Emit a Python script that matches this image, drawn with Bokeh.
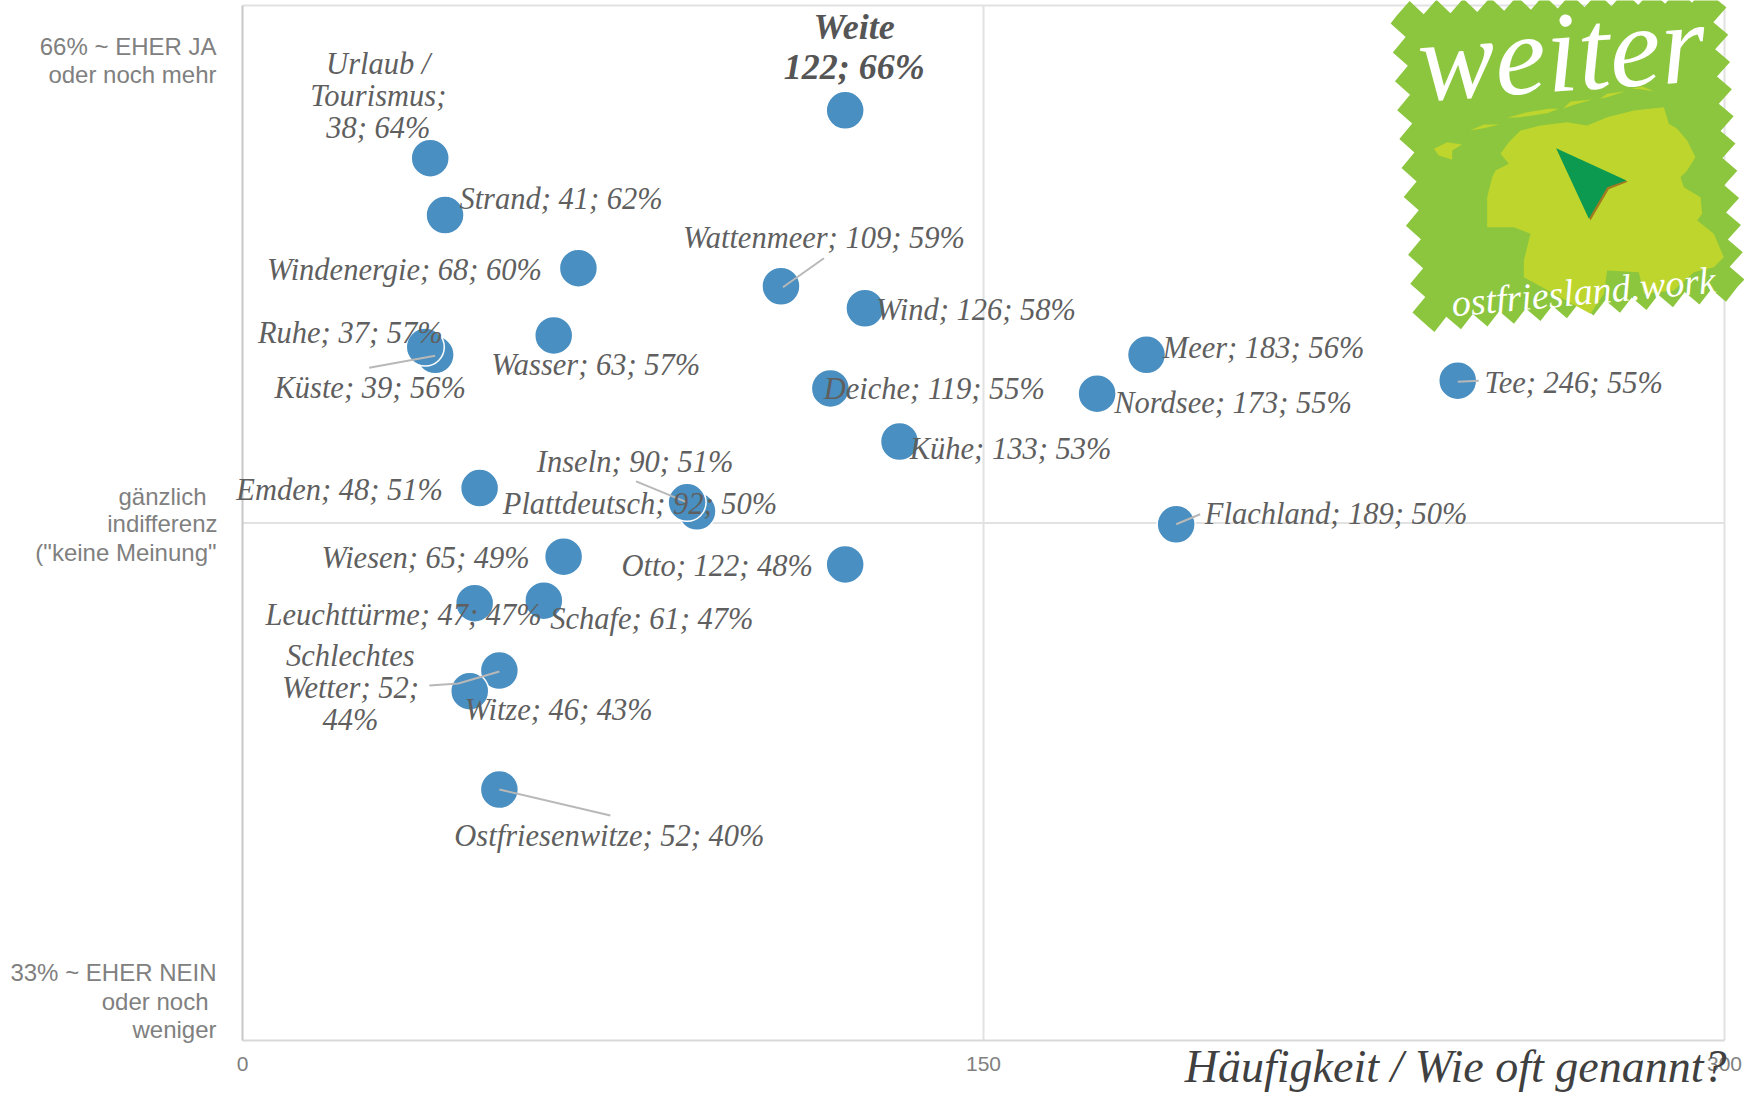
import math
from bokeh.plotting import figure
from bokeh.models import ColumnDataSource, LabelSet, Label, PolyAnnotation, FixedTicker
from bokeh.core.properties import value
from bokeh.embed import file_html
from bokeh.resources import INLINE

# ---- data ----
names = ["Weite", "Urlaub / Tourismus", "Strand", "Windenergie", "Wattenmeer", "Wind", "Wasser",
         "Küste", "Ruhe", "Meer", "Deiche", "Nordsee", "Tee", "Kühe", "Emden", "Plattdeutsch",
         "Inseln", "Flachland", "Wiesen", "Otto", "Leuchttürme", "Schafe", "Schlechtes Wetter",
         "Witze", "Ostfriesenwitze"]
haeufigkeit = [122, 38, 41, 68, 109, 126, 63, 39, 37, 183, 119, 173, 246, 133, 48, 92, 90, 189, 65,
               122, 47, 61, 52, 46, 52]
zustimmung = [65.95, 64.1, 61.9, 59.85, 59.15, 58.3, 57.25, 56.5, 56.8, 56.5, 55.2, 55.0, 55.5, 53.15, 51.35,
              50.45, 50.8, 49.95, 48.7, 48.4, 46.9, 47.0, 44.3, 43.5, 39.7]
label_texts = ["Weite\n122; 66%", "Urlaub /\nTourismus;\n38; 64%", "Strand; 41; 62%", "Windenergie; 68; 60%",
               "Wattenmeer; 109; 59%", "Wind; 126; 58%", "Wasser; 63; 57%", "Küste; 39; 56%", "Ruhe; 37; 57%",
               "Meer; 183; 56%", "Deiche; 119; 55%", "Nordsee; 173; 55%", "Tee; 246; 55%", "Kühe; 133; 53%",
               "Emden; 48; 51%", "Plattdeutsch; 92; 50%", "Inseln; 90; 51%", "Flachland; 189; 50%",
               "Wiesen; 65; 49%", "Otto; 122; 48%", "Leuchttürme; 47; 47%", "Schafe; 61; 47%",
               "Schlechtes\nWetter; 52;\n44%", "Witze; 46; 43%", "Ostfriesenwitze; 52; 40%"]
x_ticks = [0, 150, 300]
x_title = "Häufigkeit / Wie oft genannt?"
y_notes = ["66% ~ EHER JA", "oder noch mehr", "gänzlich", "indifferenz", '("keine Meinung"',
           "33% ~ EHER NEIN", "oder noch", "weniger"]
y_notes_right = [216, 216, 206, 217, 216, 216, 208, 216]
y_notes_mid = [46, 74, 496, 523, 552, 972, 1001, 1029]

# ---- layout: label offsets from the point, page pixels ----
label_dx = [9, -52, 116, -174, 43, 111, 42, -65, -75, 117, 104, 136, 116, 111, -140, -57, -52, 160, -138, -128, -71, 108, -149, 89, 110]
label_dy = [-63, -62, -16, 2, -48, 2, 30, 33, -14, -7, 1, 9, 2, 8, 2, -7, -40, -10, 1, 2, 12, 18, 18, 19, 46]
# leader lines: polyline offsets from the point, page pixels
leaders = {"Wattenmeer": [(2, 1), (43, -28)], "Küste": [(0, 1), (-66, 13)], "Inseln": [(0, 0), (-51, -21)],
           "Flachland": [(0, 0), (24, -10)], "Tee": [(0, 1), (21, 0)],
           "Schlechtes Wetter": [(0, 1), (-41, 13), (-70, 15)], "Ostfriesenwitze": [(0, 0), (111, 26)]}

W, H = 1744, 1094
X0, X1, Y_TOP, Y_BOT = 242, 1724, 5, 1040
XMIN, XMAX, YMIN, YMAX = 0, 300, 30.0, 70.0
X_MID, Y_MID = 150, 50
sx = (X1 - X0) / (XMAX - XMIN)
sy = (Y_BOT - Y_TOP) / (YMAX - YMIN)
dx = lambda px: XMIN + (px - X0) / sx
dy = lambda py: YMAX - (py - Y_TOP) / sy

GREY = "#5f5f5f"
AX_GREY = "#808080"
SERIF = "Liberation Serif"
SANS = "Liberation Sans"

p = figure(width=W, height=H, output_backend="svg", toolbar_location=None,
           x_range=(dx(0), dx(W)), y_range=(dy(H), dy(0)), min_border=0,
           background_fill_color="white", border_fill_color="white")
p.outline_line_color = None
p.grid.visible = False

p.xaxis.fixed_location = YMIN
p.xaxis.bounds = (XMIN, XMAX)
p.xaxis.ticker = FixedTicker(ticks=x_ticks)
p.xaxis.major_tick_line_color = None
p.xaxis.minor_tick_line_color = None
p.xaxis.axis_line_color = "#d9d9d9"
p.xaxis.axis_line_width = 2
p.xaxis.major_label_text_font = SANS
p.xaxis.major_label_text_font_size = "21px"
p.xaxis.major_label_text_color = AX_GREY
p.xaxis.major_label_standoff = 10

p.yaxis.fixed_location = XMIN
p.yaxis.bounds = (YMIN, YMAX)
p.yaxis.ticker = FixedTicker(ticks=[Y_MID])
p.yaxis.major_label_overrides = {Y_MID: ""}
p.yaxis.major_tick_line_color = None
p.yaxis.minor_tick_line_color = None
p.yaxis.axis_line_color = "#c8c8c8"
p.yaxis.axis_line_width = 2

# inner cross and the top / right border of the plot box
p.segment([X_MID, XMAX, XMIN, XMIN], [YMIN, YMIN, Y_MID, YMAX], [X_MID, XMAX, XMAX, XMAX], [YMAX, YMAX, Y_MID, YMAX],
          line_color="#e2e2e2", line_width=2)

p.scatter(haeufigkeit, zustimmung, size=38, marker="circle", fill_color="#4a8fc1", line_color="white", line_width=1.5)

lx, ly = [], []
for nm, pts in leaders.items():
    i = names.index(nm)
    lx.append([haeufigkeit[i] + a / sx for a, b in pts])
    ly.append([zustimmung[i] - b / sy for a, b in pts])
p.multi_line(lx, ly, line_color="#b8b8b8", line_width=2)


def line_source(indices, line_h):
    d = dict(x=[], y=[], text=[], dx=[], dy=[])
    for i in indices:
        lines = label_texts[i].split("\n")
        for k, t in enumerate(lines):
            d["x"].append(haeufigkeit[i])
            d["y"].append(zustimmung[i])
            d["text"].append(t)
            d["dx"].append(label_dx[i])
            d["dy"].append(-(label_dy[i] + (k - (len(lines) - 1) / 2) * line_h))
    return ColumnDataSource(d)


i_w = names.index("Weite")
reg = [i for i in range(len(names)) if i != i_w]
p.add_layout(LabelSet(x="x", y="y", text="text", x_offset="dx", y_offset="dy", source=line_source(reg, 32),
                      text_font=value(SERIF), text_font_style="italic", text_font_size="30.5px",
                      text_color=GREY, text_align="center", text_baseline="middle"))
p.add_layout(LabelSet(x="x", y="y", text="text", x_offset="dx", y_offset="dy", source=line_source([i_w], 40),
                      text_font=value(SERIF), text_font_style="bold italic", text_font_size="36px",
                      text_color="#555555", text_align="center", text_baseline="middle"))

for txt, px, py in zip(y_notes, y_notes_right, y_notes_mid):
    p.add_layout(Label(x=dx(px), y=dy(py), text=txt, text_font=SANS, text_font_size="24px", text_color=AX_GREY,
                       text_align="right", text_baseline="middle"))

p.add_layout(Label(x=dx(1726), y=dy(1066), text=x_title, text_font=SERIF, text_font_style="italic",
                   text_font_size="46px", text_color="#404040", text_align="right", text_baseline="middle"))


# ---- logo (decoration) ----
def zigzag(corners, teeth, amp):
    out = []
    n = len(corners)
    for k in range(n):
        (ax, ay), (bx, by) = corners[k], corners[(k + 1) % n]
        L = math.hypot(bx - ax, by - ay)
        nx, ny = (by - ay) / L, -(bx - ax) / L
        m = teeth[k] * 2
        for j in range(m):
            t = j / m
            s = amp if j % 2 else -amp
            out.append((ax + (bx - ax) * t + nx * s, ay + (by - ay) * t + ny * s))
    return out


def poly(points, color):
    p.add_layout(PolyAnnotation(xs=[dx(a) for a, b in points], ys=[dy(b) for a, b in points],
                                fill_color=color, fill_alpha=1, line_color=None))


def zoomed(points):
    return [(1380 + a / 3, b / 3) for a, b in points]


poly(zigzag([(1396, 8), (1718, -6), (1738, 293), (1420, 326)], [12, 11, 12, 11], 7), "#8bc63e")
land = [(320, 680), (320, 590), (335, 530), (345, 510), (385, 490), (360, 460), (385, 425), (420, 390), (480, 375),
        (560, 365), (620, 375), (680, 350), (760, 330), (850, 320), (865, 370), (890, 385), (920, 420), (945, 470),
        (920, 510), (900, 530), (910, 560), (960, 590), (965, 640), (950, 660), (1000, 700), (1030, 770), (1000, 800),
        (940, 815), (880, 870), (790, 880), (775, 815), (680, 810), (670, 880), (630, 940), (520, 880), (430, 830),
        (430, 780), (450, 700), (400, 680)]
poly(zoomed(land), "#bdd52d")
for isl in [[(160, 445), (200, 425), (245, 432), (215, 450), (215, 478), (175, 465)],
            [(268, 390), (310, 372), (358, 372), (310, 383)],
            [(380, 352), (440, 335), (505, 325), (535, 325), (500, 338), (420, 350)],
            [(548, 325), (570, 303), (635, 297), (575, 315)],
            [(658, 295), (680, 280), (735, 272), (680, 290)],
            [(752, 265), (785, 258), (820, 272), (780, 266)]]:
    poly(zoomed(isl), "#bdd52d")
poly(zoomed([(530, 448), (742, 544), (685, 566), (630, 660)]), "#a07a20")
poly(zoomed([(527, 443), (738, 540), (680, 560), (625, 655)]), "#0b9a4f")

p.add_layout(Label(x=dx(1561), y=dy(52), text="weiter", angle=0.07, text_font=SERIF, text_font_style="italic",
                   text_font_size="115px", text_color="white", text_align="center", text_baseline="middle"))
p.add_layout(Label(x=dx(1583), y=dy(291), text="ostfriesland.work", angle=0.09, text_font=SERIF,
                   text_font_style="italic", text_font_size="38px", text_color="white", text_align="center",
                   text_baseline="middle"))

open("out.html", "w").write(file_html(p, INLINE))
